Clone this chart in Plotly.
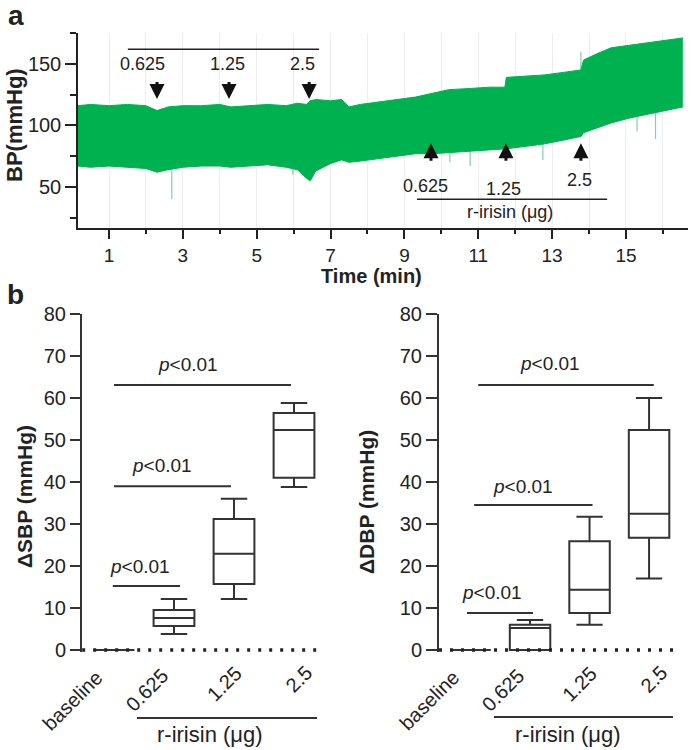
import plotly.graph_objects as go
import numpy as np

W, H = 693, 750
def px(x): return x / W
def py(y): return 1 - y / H

# ---------------- Data: panel a (BP trace envelope) ----------------
time_min = [0.16, 0.5, 1.0, 1.5, 2.0, 2.3, 2.6, 3.0, 3.5, 4.0, 4.3, 4.8, 5.3, 5.8, 6.1,
            6.35, 6.45, 6.6, 7.0, 7.3, 7.5, 7.8, 8.3, 8.8, 9.3, 9.75, 10.2, 10.8, 11.3,
            11.72, 11.76, 12.3, 12.8, 13.3, 13.78, 13.85, 14.2, 14.6, 15.1, 15.6, 16.1, 16.54]
bp_upper = [116, 117, 116, 117, 116, 112, 115, 116, 116, 117, 115, 116, 117, 116, 118,
            117, 120, 121, 120, 121, 115, 117, 119, 121, 123, 126, 129, 130, 131,
            131, 139, 140, 141, 143, 145, 153, 158, 163, 165, 167, 169, 171]
bp_lower = [67, 66, 67, 66, 65, 62, 64, 66, 67, 67, 66, 67, 68, 66, 64,
            57, 55, 63, 69, 72, 70, 71, 73, 75, 77, 77, 78, 79, 80,
            81, 81, 83, 85, 88, 91, 94, 98, 102, 106, 109, 112, 115]
spike_t = [2.70, 5.98, 10.23, 10.78, 12.75, 15.30, 15.80, 13.78]
spike_v = [40, 60, 70, 67, 72, 95, 89, 160]

igg_t = [2.30, 4.25, 6.42]
igg_labels = ["0.625", "1.25", "2.5"]
irisin_t = [9.72, 11.75, 13.78]
irisin_labels = ["0.625", "1.25", "2.5"]

# ---------------- Data: panel b (box plots) ----------------
categories = ["baseline", "0.625", "1.25", "2.5"]
cat_pos = [0, 1, 2, 3]
sbp_low = [0, 3.8, 12.1, 38.8]
sbp_q1 = [0, 5.7, 15.7, 41.0]
sbp_med = [0, 7.6, 22.9, 52.4]
sbp_q3 = [0, 9.5, 31.2, 56.4]
sbp_high = [0, 12.1, 36.0, 58.8]

dbp_low = [0, 0, 6.0, 17.0]
dbp_q1 = [0, 0, 8.8, 26.7]
dbp_med = [0, 5.2, 14.3, 32.4]
dbp_q3 = [0, 6.0, 25.9, 52.4]
dbp_high = [0, 7.1, 31.7, 60.0]

# significance bars: (x0, x1, y) and label position (x, y)
sbp_sig = [(0.0, 2.95, 63.1, 1.23, 67.9), (0.0, 1.95, 39.0, 0.80, 44.0), (-0.02, 1.10, 15.2, 0.43, 19.8)]
dbp_sig = [(0.13, 3.08, 63.1, 1.34, 68.3), (0.06, 2.05, 34.5, 0.88, 38.8), (-0.06, 1.05, 8.8, 0.36, 13.6)]

GREEN = "#00B14F"
SPIKE = "#7FD4A3"
INK = "#222222"
BOXC = "#333333"
FONT = "Liberation Sans, Arial, sans-serif"

fig = go.Figure()

# spikes (behind band)
mid = (np.array(bp_upper) + np.array(bp_lower)) / 2
sx, sy = [], []
for t, v in zip(spike_t, spike_v):
    m = float(np.interp(t, time_min, mid))
    sx += [t, t, None]
    sy += [m, v, None]
fig.add_trace(go.Scatter(x=sx, y=sy, mode="lines", line=dict(color=SPIKE, width=1.2),
                         hoverinfo="skip", showlegend=False, xaxis="x", yaxis="y"))
fig.add_trace(go.Scatter(x=time_min, y=bp_lower, mode="lines", line=dict(color=GREEN, width=1),
                         hoverinfo="skip", showlegend=False, xaxis="x", yaxis="y"))
fig.add_trace(go.Scatter(x=time_min, y=bp_upper, mode="lines", line=dict(color=GREEN, width=1),
                         fill="tonexty", fillcolor=GREEN,
                         hoverinfo="skip", showlegend=False, xaxis="x", yaxis="y"))

# boxes
for ax, lo, q1, med, q3, hi in [("2", sbp_low, sbp_q1, sbp_med, sbp_q3, sbp_high),
                                 ("3", dbp_low, dbp_q1, dbp_med, dbp_q3, dbp_high)]:
    fig.add_trace(go.Box(x=cat_pos, q1=q1, median=med, q3=q3, lowerfence=lo, upperfence=hi,
                         orientation="v", width=0.68, whiskerwidth=0.65,
                         line=dict(color=BOXC, width=2), fillcolor="white",
                         boxpoints=False, showlegend=False, hoverinfo="skip",
                         xaxis="x" + ax, yaxis="y" + ax))

shapes = []
annotations = []

def ann(**kw):
    d = dict(showarrow=False, xanchor="center", yanchor="middle")
    d.update(kw)
    annotations.append(d)

# panel a annotations
shapes.append(dict(type="line", xref="x", yref="y", x0=1.51, x1=6.69, y0=161.8, y1=161.8,
                   line=dict(color=INK, width=1.5)))
ann(x=4.0, y=176.5, xref="x", yref="y", text="IgG Fc (μg)", font=dict(size=18, color=INK, family=FONT))
lbl_dx = [-0.38, -0.03, -0.17]
for t, lab, dx in zip(igg_t, igg_labels, lbl_dx):
    ann(x=t + dx, y=150, xref="x", yref="y", text=lab, font=dict(size=18, color=INK, family=FONT))
    annotations.append(dict(x=t, y=121.5, ax=t, ay=136.5, xref="x", yref="y", axref="x", ayref="y",
                            text="", showarrow=True, arrowhead=2, arrowsize=1.0, arrowwidth=3,
                            arrowcolor="#111111"))
shapes.append(dict(type="line", xref="x", yref="y", x0=9.34, x1=14.49, y0=40, y1=40,
                   line=dict(color=INK, width=1.5)))
ann(x=11.86, y=29.5, xref="x", yref="y", text="r-irisin (μg)", font=dict(size=18, color=INK, family=FONT))
lbl2 = [(-0.16, 50.5), (-0.08, 48.5), (-0.05, 56)]
for t, lab, (dx, yy) in zip(irisin_t, irisin_labels, lbl2):
    ann(x=t + dx, y=yy, xref="x", yref="y", text=lab, font=dict(size=18, color=INK, family=FONT))
    annotations.append(dict(x=t, y=85.5, ax=t, ay=70, xref="x", yref="y", axref="x", ayref="y",
                            text="", showarrow=True, arrowhead=2, arrowsize=1.0, arrowwidth=3,
                            arrowcolor="#111111"))

# panel b: zero dotted lines, sig bars, rotated category labels
lab_shift = [-41, -27, -10, 5]
lab_y = [700, 690, 684, 679]
for ax, sig, xr in [("2", sbp_sig, (-0.53, 3.48)), ("3", dbp_sig, (-0.53, 3.52))]:
    shapes.append(dict(type="line", xref="x" + ax, yref="y" + ax, x0=xr[0], x1=xr[1], y0=0, y1=0,
                       line=dict(color=INK, width=3.5, dash="3px,8px")))
    for x0, x1, yv, tx, ty in sig:
        shapes.append(dict(type="line", xref="x" + ax, yref="y" + ax, x0=x0, x1=x1, y0=yv, y1=yv,
                           line=dict(color=BOXC, width=2)))
        ann(x=tx, y=ty, xref="x" + ax, yref="y" + ax, text="<i>p</i>&lt;0.01",
            font=dict(size=19, color=INK, family=FONT))
    for pos, lab, xs, yc in zip(cat_pos, categories, lab_shift, lab_y):
        ann(x=pos, y=py(yc), xref="x" + ax, yref="paper", xshift=xs, text=lab, textangle=-45,
            font=dict(size=20, color=INK, family=FONT))

# r-irisin group lines under bottom panels
for x0, x1, yl, tx in [(137, 317, 718, 210), (494, 673, 717, 568)]:
    shapes.append(dict(type="line", xref="paper", yref="paper", x0=px(x0), x1=px(x1),
                       y0=py(yl), y1=py(yl), line=dict(color=BOXC, width=2)))
    ann(x=px(tx), y=py(734), xref="paper", yref="paper", text="r-irisin (μg)",
        font=dict(size=22, color=INK, family=FONT))

# titles and panel letters
ann(x=px(16), y=py(16), xref="paper", yref="paper", text="<b>a</b>", font=dict(size=28, color=INK, family=FONT))
ann(x=px(15), y=py(294), xref="paper", yref="paper", text="<b>b</b>", font=dict(size=28, color=INK, family=FONT))
ann(x=px(15), y=py(125), xref="paper", yref="paper", text="<b>BP(mmHg)</b>", textangle=-90,
    font=dict(size=22, color=INK, family=FONT))
ann(x=px(371), y=py(276), xref="paper", yref="paper", text="<b>Time (min)</b>",
    font=dict(size=20, color=INK, family=FONT))
ann(x=px(25), y=py(497), xref="paper", yref="paper", text="<b>ΔSBP (mmHg)</b>", textangle=-90,
    font=dict(size=21, color=INK, family=FONT))
ann(x=px(366), y=py(502), xref="paper", yref="paper", text="<b>ΔDBP (mmHg)</b>", textangle=-90,
    font=dict(size=21, color=INK, family=FONT))

tickfont = dict(size=20, color=INK, family=FONT)

fig.update_layout(
    template="none",
    width=W, height=H, margin=dict(l=0, r=0, t=0, b=0, pad=0, autoexpand=False),
    paper_bgcolor="white", plot_bgcolor="white", showlegend=False,
    font=dict(family=FONT, color=INK),
    xaxis=dict(domain=[px(78), px(688)], range=[0.16, 16.68], anchor="y", automargin=False,
               tickvals=[1, 3, 5, 7, 9, 11, 13, 15], ticks="outside", ticklen=9, tickwidth=1.5,
               tickcolor=INK, showline=True, linecolor=INK, linewidth=1.5, zeroline=False,
               showgrid=True, gridcolor="#EDEDED", gridwidth=1,
               tickfont=dict(size=19, color=INK, family=FONT),
               minor=dict(tickvals=[2, 4, 6, 8, 10, 12, 14, 16], ticks="outside", ticklen=4,
                          tickwidth=1.5, tickcolor=INK, showgrid=True, gridcolor="#EDEDED")),
    yaxis=dict(domain=[py(228), py(33)], range=[16.7, 175], anchor="x", automargin=False,
               tickvals=[50, 100, 150], ticks="outside", ticklen=11, tickwidth=1.5, tickcolor=INK,
               showline=True, linecolor=INK, linewidth=1.5, zeroline=False, showgrid=False,
               tickfont=tickfont,
               minor=dict(tickvals=[25, 75, 125, 175], ticks="outside", ticklen=6, tickwidth=1.5,
                          tickcolor=INK)),
    xaxis2=dict(domain=[px(82), px(323)], range=[-0.533, 3.483], anchor="y2", automargin=False,
                tickvals=cat_pos, showticklabels=False, ticks="",
                showline=False, zeroline=False, showgrid=False),
    yaxis2=dict(domain=[py(652), py(314)], range=[-0.5, 80], anchor="x2", automargin=False,
                tickvals=[0, 10, 20, 30, 40, 50, 60, 70, 80], ticks="outside", ticklen=10,
                tickwidth=2, tickcolor=BOXC, showline=True, linecolor=BOXC, linewidth=2,
                zeroline=False, showgrid=False, tickfont=tickfont),
    xaxis3=dict(domain=[px(439), px(680)], range=[-0.53, 3.52], anchor="y3", automargin=False,
                tickvals=cat_pos, showticklabels=False, ticks="",
                showline=False, zeroline=False, showgrid=False),
    yaxis3=dict(domain=[py(652), py(314)], range=[-0.5, 80], anchor="x3", automargin=False,
                tickvals=[0, 10, 20, 30, 40, 50, 60, 70, 80], ticks="outside", ticklen=11,
                tickwidth=2, tickcolor=BOXC, showline=True, linecolor=BOXC, linewidth=2,
                zeroline=False, showgrid=False, tickfont=tickfont),
    shapes=shapes, annotations=annotations,
)

fig.write_html("out.html", config={"displayModeBar": False},
               post_script="document.body.style.margin='0';document.body.style.overflow='hidden';")
